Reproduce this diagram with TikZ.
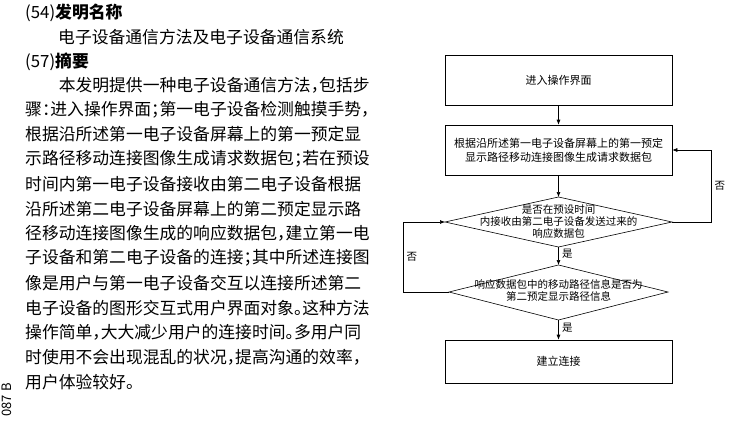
\documentclass[tikz,border=0pt]{standalone}
\usepackage{fontspec}
\setmainfont{Noto Sans CJK SC}
\usetikzlibrary{arrows.meta}
\newcommand{\hp}[1]{\makebox[8.4pt][l]{#1}}

\begin{document}
\begin{tikzpicture}[x=1pt,y=-1pt,
  txt/.style={anchor=west,inner sep=0pt,font=\fontsize{16.8}{17}\selectfont},
  stepbox/.style={draw,line width=0.6pt,minimum width=227pt,minimum height=50pt,align=center,font=\fontsize{11}{14}\selectfont},
  flow/.style={line width=0.6pt,-{Latex[length=5pt,width=4pt]}},
  lbl/.style={font=\fontsize{10.5}{12}\selectfont}]
\useasboundingbox (0,0) rectangle (741,420);
%abstract text
\node[txt] (h1) at (25,13) {(54)\textbf{发明名称}};
\node[txt] (h2) at (58,37) {电子设备通信方法及电子设备通信系统};
\node[txt] (h3) at (25,62) {(57)\textbf{摘要}};
\foreach \i/\s in {0/{\hspace{33.6pt}本发明提供一种电子设备通信方法\hp{，}包括步},
  1/{骤\hp{：}进入操作界面\hp{；}第一电子设备检测触摸手势\hp{，}},
  2/{根据沿所述第一电子设备屏幕上的第一预定显},
  3/{示路径移动连接图像生成请求数据包\hp{；}若在预设},
  4/{时间内第一电子设备接收由第二电子设备根据},
  5/{沿所述第二电子设备屏幕上的第二预定显示路},
  6/{径移动连接图像生成的响应数据包\hp{，}建立第一电},
  7/{子设备和第二电子设备的连接\hp{；}其中所述连接图},
  8/{像是用户与第一电子设备交互以连接所述第二},
  9/{电子设备的图形交互式用户界面对象\hp{。}这种方法},
  10/{操作简单\hp{，}大大减少用户的连接时间\hp{。}多用户同},
  11/{时使用不会出现混乱的状况\hp{，}提高沟通的效率\hp{，}},
  12/{用户体验较好\hp{。}}}
  \node[txt] (l\i) at (25,85+24.75*\i) {\s};
\node[rotate=90,font=\fontsize{13}{13}\selectfont,inner sep=0pt] (side) at (7,400) {087 B};

%flowchart
\node[stepbox] (enter) at (558.5,80) {进入操作界面};
\node[stepbox] (req) at (558.5,150) {根据沿所述第一电子设备屏幕上的第一预定\\显示路径移动连接图像生成请求数据包};
\coordinate (d1n) at (558.5,197); \coordinate (d1e) at (672,222);
\coordinate (d1s) at (558.5,247); \coordinate (d1w) at (445,222);
\draw[line width=0.6pt] (d1n) -- (d1e) -- (d1s) -- (d1w) -- cycle;
\node[lbl,align=center] (q1) at (558.5,222) {是否在预设时间\\内接收由第二电子设备发送过来的\\响应数据包};
\coordinate (d2n) at (558.5,265); \coordinate (d2e) at (668,292);
\coordinate (d2s) at (558.5,320); \coordinate (d2w) at (449,292);
\draw[line width=0.6pt] (d2n) -- (d2e) -- (d2s) -- (d2w) -- cycle;
\node[lbl,align=center] (q2) at (558.5,290) {响应数据包中的移动路径信息是否为\\第二预定显示路径信息};
\node[stepbox,minimum height=43pt] (link) at (558.5,361.5) {建立连接};

\draw[flow] (enter) -- (req);
\draw[flow] (req) -- (d1n);
\draw[flow] (d1s) -- node[lbl,right,pos=0.4] (y1) {是} (d2n);
\draw[flow] (d2s) -- node[lbl,right,pos=0.4] (y2) {是} (link);
\draw[flow] (d1e) -- (711,222) -- node[lbl,right,pos=0.5] (n1) {否} (711,150) -- (req.east);
\draw[flow] (d2w) -- (403,292) -- node[lbl,right,pos=0.5] (n2) {否} (403,222) -- (d1w);
\end{tikzpicture}
\end{document}
